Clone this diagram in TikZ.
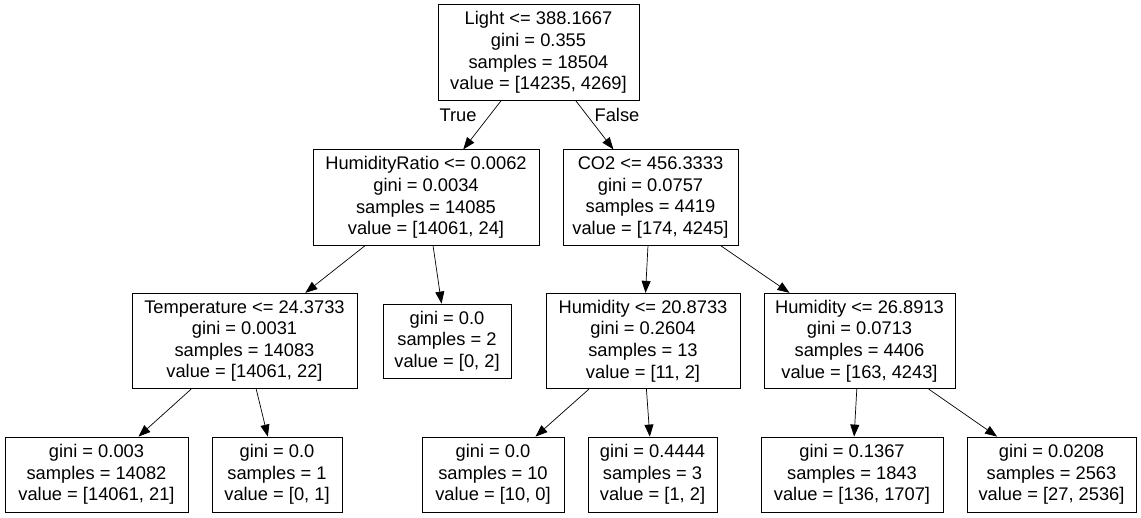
\documentclass[tikz,border=0pt]{standalone}
\usepackage{fontspec}
\setmainfont{Liberation Sans}
\usetikzlibrary{arrows.meta}
\begin{document}
\begin{tikzpicture}[x=1pt,y=-1pt,
  tnode/.style={draw,line width=0.8pt,align=center,inner sep=0pt,
    font=\fontsize{18.3}{21.6}\selectfont,minimum height=95.5pt},
  tleaf/.style={tnode,minimum height=75pt},
  conn/.style={-{Triangle[length=12pt,width=9pt]},line width=0.7pt},
  elabel/.style={font=\fontsize{18.3}{21.6}\selectfont,inner sep=0pt}]
\useasboundingbox (0,0) rectangle (1141,517);
% level 0
\node[tnode,minimum width=201pt] (root) at (538.5,52.5)
  {Light <= 388.1667\\gini = 0.355\\samples = 18504\\value = [14235, 4269]};
% level 1
\node[tnode,minimum width=226pt] (hr) at (426,197.5)
  {HumidityRatio <= 0.0062\\gini = 0.0034\\samples = 14085\\value = [14061, 24]};
\node[tnode,minimum width=175pt] (co2) at (650.5,197.5)
  {CO2 <= 456.3333\\gini = 0.0757\\samples = 4419\\value = [174, 4245]};
% level 2
\node[tnode,minimum width=225pt] (temp) at (244.5,341)
  {Temperature <= 24.3733\\gini = 0.0031\\samples = 14083\\value = [14061, 22]};
\node[tleaf,minimum width=128pt,minimum height=74pt] (la) at (447,341)
  {gini = 0.0\\samples = 2\\value = [0, 2]};
\node[tnode,minimum width=194pt] (hum1) at (643,341)
  {Humidity <= 20.8733\\gini = 0.2604\\samples = 13\\value = [11, 2]};
\node[tnode,minimum width=191pt] (hum2) at (859.5,341)
  {Humidity <= 26.8913\\gini = 0.0713\\samples = 4406\\value = [163, 4243]};
% level 3
\node[tleaf,minimum width=183pt] (l1) at (96.5,474.5)
  {gini = 0.003\\samples = 14082\\value = [14061, 21]};
\node[tleaf,minimum width=130pt] (l2) at (277,474.5)
  {gini = 0.0\\samples = 1\\value = [0, 1]};
\node[tleaf,minimum width=142pt] (l3) at (493,474.5)
  {gini = 0.0\\samples = 10\\value = [10, 0]};
\node[tleaf,minimum width=129pt] (l4) at (652.5,474.5)
  {gini = 0.4444\\samples = 3\\value = [1, 2]};
\node[tleaf,minimum width=182pt] (l5) at (852,474.5)
  {gini = 0.1367\\samples = 1843\\value = [136, 1707]};
\node[tleaf,minimum width=169pt] (l6) at (1051.5,474.5)
  {gini = 0.0208\\samples = 2563\\value = [27, 2536]};
% connectors
\draw[conn] (root) -- (hr);
\draw[conn] (root) -- (co2);
\draw[conn] (hr) -- (temp);
\draw[conn] (hr) -- (la);
\draw[conn] (co2) -- (hum1);
\draw[conn] (co2) -- (hum2);
\draw[conn] (temp) -- (l1);
\draw[conn] (temp) -- (l2);
\draw[conn] (hum1) -- (l3);
\draw[conn] (hum1) -- (l4);
\draw[conn] (hum2) -- (l5);
\draw[conn] (hum2) -- (l6);
% edge labels
\node[elabel] (ltrue) at (458,115) {True};
\node[elabel] (lfalse) at (617,115) {False};
\end{tikzpicture}
\end{document}
